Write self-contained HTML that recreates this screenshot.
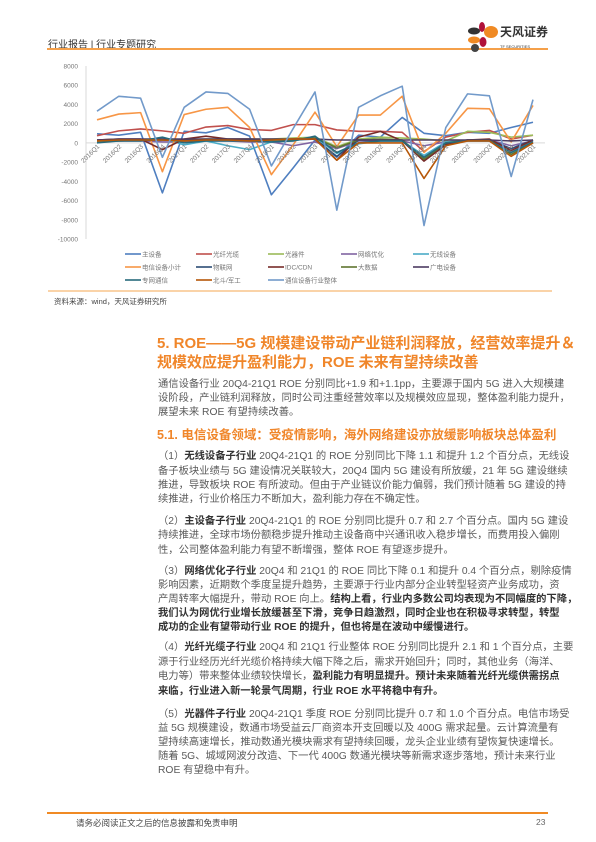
<!DOCTYPE html>
<html><head><meta charset="utf-8"><style>
body{margin:0;width:596px;height:842px;position:relative;background:#fff;overflow:hidden;font-family:"Liberation Sans","Noto Sans CJK SC",sans-serif;}
.a{position:absolute;}
.l{position:absolute;left:158px;width:389px;font-size:10.3px;line-height:14px;color:#5a5a5a;text-align:justify;text-align-last:justify;white-space:nowrap;}
.l.e{text-align-last:left;}
.l b{color:#333;}
.h{position:absolute;left:157px;color:#F0862A;font-weight:bold;white-space:nowrap;}
</style></head><body>
<div class="a" style="left:48px;top:36px;font-size:10px;color:#333;">行业报告 | 行业专题研究</div>
<div class="a" style="left:47px;top:48px;width:501px;height:2px;background:#F5A04A;"></div>
<div class="a" style="left:468px;top:22px;width:80px;height:30px;">
<svg width="80" height="30"><ellipse cx="6" cy="9" rx="6" ry="3.5" fill="#333"/><ellipse cx="14" cy="5" rx="3" ry="5" fill="#B0113A"/><ellipse cx="23" cy="10" rx="7" ry="6" fill="#F08A24"/><ellipse cx="6" cy="18" rx="6" ry="3.5" fill="#F08A24"/><ellipse cx="15" cy="20" rx="3.5" ry="5" fill="#B0113A"/><ellipse cx="7" cy="26" rx="4" ry="4" fill="#444"/>
<text x="32" y="14" font-size="12" font-weight="bold" fill="#333" font-family="Liberation Sans,Noto Sans CJK SC,sans-serif">天风证券</text><text x="32" y="26" font-size="4" fill="#333" font-family="Liberation Sans,sans-serif">TF SECURITIES</text></svg></div>

<svg id="chart" class="a" style="left:0;top:55px;" width="596" height="240"></svg>

<div class="a" style="left:48px;top:290px;width:504px;height:2px;background:#FAD3A8;"></div>
<div class="a" style="left:54px;top:296px;font-size:7.5px;color:#444;">资料来源：wind，天风证券研究所</div>

<div class="h" style="top:334px;font-size:15px;line-height:19px;">5. ROE——5G 规模建设带动产业链利润释放，经营效率提升＆<br>规模效应提升盈利能力，ROE 未来有望持续改善</div>
<div class="l" style="top:378px">通信设备行业 20Q4-21Q1 ROE 分别同比+1.9 和+1.1pp，主要源于国内 5G 进入大规模建</div>
<div class="l" style="top:392px">设阶段，产业链利润释放，同时公司注重经营效率以及规模效应显现，整体盈利能力提升，</div>
<div class="l e" style="top:406px">展望未来 ROE 有望持续改善。</div>
<div class="h" style="top:427px;font-size:12.5px;line-height:16px;">5.1. 电信设备领域：受疫情影响，海外网络建设亦放缓影响板块总体盈利</div>
<div class="l" style="top:450px">（1）<b>无线设备子行业</b> 20Q4-21Q1 的 ROE 分别同比下降 1.1 和提升 1.2 个百分点，无线设</div>
<div class="l" style="top:465px">备子板块业绩与 5G 建设情况关联较大，20Q4 国内 5G 建设有所放缓，21 年 5G 建设继续</div>
<div class="l" style="top:479px">推进，导致板块 ROE 有所波动。但由于产业链议价能力偏弱，我们预计随着 5G 建设的持</div>
<div class="l e" style="top:493px">续推进，行业价格压力不断加大，盈利能力存在不确定性。</div>
<div class="l" style="top:515px">（2）<b>主设备子行业</b> 20Q4-21Q1 的 ROE 分别同比提升 0.7 和 2.7 个百分点。国内 5G 建设</div>
<div class="l" style="top:529px">持续推进，全球市场份额稳步提升推动主设备商中兴通讯收入稳步增长，而费用投入偏刚</div>
<div class="l e" style="top:544px">性，公司整体盈利能力有望不断增强，整体 ROE 有望逐步提升。</div>
<div class="l" style="top:565px">（3）<b>网络优化子行业</b> 20Q4 和 21Q1 的 ROE 同比下降 0.1 和提升 0.4 个百分点，剔除疫情</div>
<div class="l" style="top:579px">影响因素，近期数个季度呈提升趋势，主要源于行业内部分企业转型轻资产业务成功，资</div>
<div class="l" style="top:593px">产周转率大幅提升，带动 ROE 向上。<b>结构上看，行业内多数公司均表现为不同幅度的下降，</b></div>
<div class="l" style="top:607px"><b>我们认为网优行业增长放缓甚至下滑，竞争日趋激烈，同时企业也在积极寻求转型，转型</b></div>
<div class="l e" style="top:621px"><b>成功的企业有望带动行业 ROE 的提升，但也将是在波动中缓慢进行。</b></div>
<div class="l" style="top:641px">（4）<b>光纤光缆子行业</b> 20Q4 和 21Q1 行业整体 ROE 分别同比提升 2.1 和 1 个百分点，主要</div>
<div class="l" style="top:656px">源于行业经历光纤光缆价格持续大幅下降之后，需求开始回升；同时，其他业务（海洋、</div>
<div class="l" style="top:670px">电力等）带来整体业绩较快增长，<b>盈利能力有明显提升。预计未来随着光纤光缆供需拐点</b></div>
<div class="l e" style="top:685px"><b>来临，行业进入新一轮景气周期，行业 ROE 水平将稳中有升。</b></div>
<div class="l" style="top:708px">（5）<b>光器件子行业</b> 20Q4-21Q1 季度 ROE 分别同比提升 0.7 和 1.0 个百分点。电信市场受</div>
<div class="l" style="top:722px">益 5G 规模建设，数通市场受益云厂商资本开支回暖以及 400G 需求起量。云计算流量有</div>
<div class="l" style="top:736px">望持续高速增长，推动数通光模块需求有望持续回暖，龙头企业业绩有望恢复快速增长。</div>
<div class="l" style="top:750px">随着 5G、城域网波分改造、下一代 400G 数通光模块等新需求逐步落地，预计未来行业</div>
<div class="l e" style="top:764px">ROE 有望稳中有升。</div>

<div class="a" style="left:47px;top:812px;width:501px;height:2px;background:#F08A24;"></div>
<div class="a" style="left:76px;top:817px;font-size:8.5px;color:#444;">请务必阅读正文之后的信息披露和免责申明</div>
<div class="a" style="left:536px;top:817px;font-size:8.5px;color:#666;">23</div>

<script>
const categories=["2016Q1","2016Q2","2016Q3","2016Q4","2017Q1","2017Q2","2017Q3","2017Q4","2018Q1","2018Q2","2018Q3","2018Q4","2019Q1","2019Q2","2019Q3","2019Q4","2020Q1","2020Q2","2020Q3","2020Q4","2021Q1"];
const yTicks=[8000,6000,4000,2000,0,-2000,-4000,-6000,-8000,-10000];
const seriesNames=["主设备","光纤光缆","光器件","网络优化","无线设备","电信设备小计","物联网","IDC/CDN","大数据","广电设备","专网通信","北斗/军工","通信设备行业整体"];
const seriesColors=["#4F7FC0","#C0504D","#9BBB59","#8064A2","#4BACC6","#F79646","#2C4D75","#772C2A","#5F7530","#4D3B62","#276A7C","#B65708","#729ACA"];
const sMain=[950,800,1100,-5200,1200,1050,1600,700,-5400,-2600,300,-1500,800,600,2650,1000,750,1100,1000,1600,2150];
const sFiber=[750,1250,1450,1250,1000,1650,1800,1400,1300,1900,1900,1350,1200,1200,1100,-900,600,1100,1300,400,800];
const sOptical=[100,300,300,300,300,400,400,400,400,500,600,-400,400,600,500,400,200,1200,1100,600,800];
const sNetOpt=[200,200,200,100,100,200,200,100,100,-300,100,-600,200,200,200,-300,100,300,300,-300,200];
const sWireless=[0,300,300,500,-200,200,-300,-700,100,200,600,-1100,-100,200,200,-1300,100,200,200,-1000,200];
const sTelecom=[2400,3000,3150,-3000,2950,3500,3700,1600,-3300,-200,3200,-400,2900,2900,4850,-1000,1000,3600,3550,100,3900];
const sIoT=[300,300,300,300,300,300,300,300,300,300,400,-1400,300,300,300,-1800,-100,300,300,-600,300];
const sIDC=[300,400,400,-700,400,700,400,400,300,400,400,-1800,600,1200,200,-1900,-200,300,400,-800,300];
const sBigData=[200,200,300,300,200,300,300,300,300,300,500,-500,300,400,300,-1700,0,300,300,-1200,0];
const sBroadcast=[300,400,400,400,400,400,400,400,400,400,400,300,300,300,300,300,300,300,300,200,300];
const sPrivate=[0,200,200,600,0,200,200,200,100,200,700,-1000,0,200,200,-1500,0,200,200,-1000,100];
const sBeidou=[200,300,300,300,200,300,300,200,300,400,400,-1800,0,0,0,-3700,-300,200,200,-1400,0];
const sTotal=[3300,4850,4650,-1500,3700,5300,5150,3500,-2400,1500,5300,-7000,3700,4900,5900,-8600,1600,5100,4900,-3500,4500];
const allSeries=[sMain,sFiber,sOptical,sNetOpt,sWireless,sTelecom,sIoT,sIDC,sBigData,sBroadcast,sPrivate,sBeidou,sTotal];

const NS="http://www.w3.org/2000/svg";
const svg=document.getElementById('chart');
const yMax=8000,yMin=-10000,yTop=11,yBot=184,axisX=86,x0=97,x1=533;
function yS(v){return yTop+(yMax-v)/(yMax-yMin)*(yBot-yTop);}
function xS(i){return x0+i*(x1-x0)/(categories.length-1);}
function mk(t,a){const e=document.createElementNS(NS,t);for(const k in a)e.setAttribute(k,a[k]);svg.appendChild(e);return e;}
const ax=mk('line',{x1:axisX,x2:axisX,y1:yTop,y2:yBot,stroke:'#d9d9d9'});


const zl=mk('line',{x1:axisX,x2:545,y1:yS(0),y2:yS(0),stroke:'#d9d9d9'});


yTicks.forEach(v=>{const t=mk('text',{x:78,y:yS(v)+2.5,'font-size':6.5,fill:'#777','text-anchor':'end'});t.textContent=v;

});
allSeries.forEach((s,k)=>{const p=mk('polyline',{points:s.map((v,i)=>xS(i)+','+yS(v)).join(' '),fill:'none',stroke:seriesColors[k],'stroke-width':1.6,'stroke-linejoin':'round'});

});
categories.forEach((c,i)=>{const x=xS(i)+3,y=yS(0)+4;const t=mk('text',{x:x,y:y,'font-size':6.5,fill:'#777','text-anchor':'end',transform:'rotate(-45 '+x+' '+y+')'});t.textContent=c;

});
const colX=[125,196,268,341,413],rowY=[199,212,225];
seriesNames.forEach((n,k)=>{const x=colX[k%5],y=rowY[Math.floor(k/5)];
const ln=mk('line',{x1:x,x2:x+16,y1:y,y2:y,stroke:seriesColors[k],'stroke-width':1.6});


const t=mk('text',{x:x+17,y:y+2.5,'font-size':6.5,fill:'#777'});t.textContent=n;

});
</script>
</body></html>
